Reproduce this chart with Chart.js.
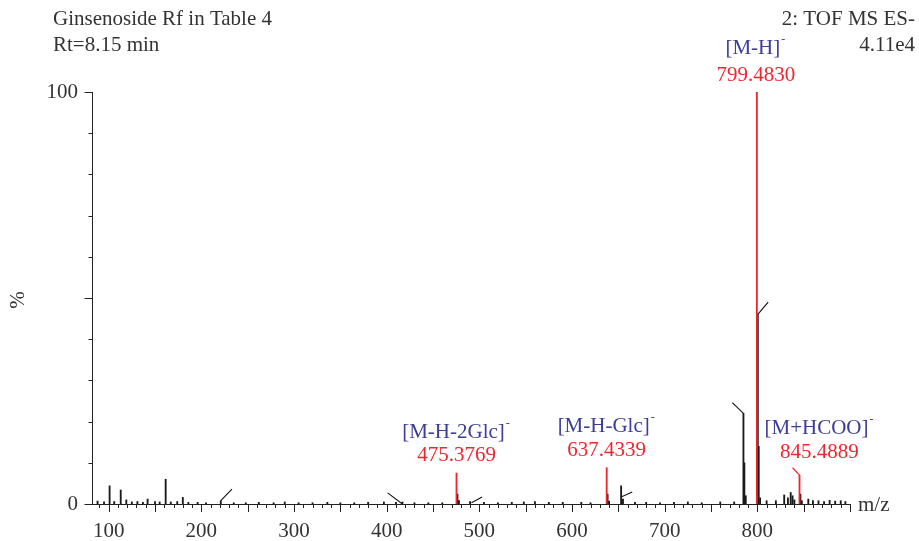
<!DOCTYPE html>
<html lang="en">
<head>
    <meta charset="UTF-8">
    <title>Ginsenoside Rf MS spectrum</title>
    <script src="https://cdn.jsdelivr.net/npm/chart.js@4.4.1/dist/chart.umd.min.js"></script>
    <style>
        body {
            margin: 0;
            background: #fff;
        }
        .chart-container {
            width: 919px;
            height: 541px;
            position: relative;
        }
    </style>
</head>
<body>
    <div class="chart-container">
        <canvas id="msChart"></canvas>
    </div>

    <script>
        // m/z and relative intensity (%) of the black sticks
        const peakMz = [88, 95, 101, 106, 113, 119, 125, 131, 137, 142, 150, 155, 161.5, 167, 174, 180, 186, 196, 205, 221,
            235, 248, 262, 278, 290, 305, 320, 336, 350, 365, 380, 397, 410, 417, 430, 445, 460, 476.4, 478, 490,
            505, 520, 535, 548, 560, 575, 590, 610, 620, 638.4, 640, 653, 655, 668, 680, 695, 710, 725, 740, 760,
            775, 785, 786, 787.5, 800.5, 801.5, 803, 810, 820, 829, 833, 836, 838, 840, 846.5, 848, 855, 860, 866,
            872, 878, 884, 890, 895];
        const peakInt = [0.7, 0.5, 4.4, 0.6, 3.4, 1.0, 0.5, 0.6, 0.4, 1.2, 0.6, 0.5, 6.0, 0.5, 0.6, 1.6, 0.4, 0.4, 0.3, 0.8,
            0.3, 0.3, 0.4, 0.3, 0.5, 0.3, 0.3, 0.4, 0.3, 0.3, 0.4, 0.5, 0.4, 0.5, 0.3, 0.3, 0.3, 2.4, 0.8, 0.6,
            0.4, 0.3, 0.4, 0.5, 0.6, 0.4, 0.4, 0.4, 0.3, 2.4, 0.7, 4.4, 1.2, 0.4, 0.4, 0.3, 0.4, 0.5, 0.3, 0.5,
            0.5, 22, 10, 2, 46, 14, 1.5, 0.8, 0.8, 2.2, 1.5, 2.8, 2.0, 1.0, 2.4, 0.8, 1.2, 0.8, 0.8,
            0.6, 0.9, 0.7, 0.8, 0.6];

        // annotated ions (red)
        const ionMz = [475.3769, 637.4339, 799.4830, 845.4889];
        const ionInt = [7.5, 8.8, 100, 7];
        const ionNames = ['[M-H-2Glc]', '[M-H-Glc]', '[M-H]', '[M+HCOO]'];

        // leftover leader lines of the original plot: [mzFrom, intFrom, mzTo, intTo]
        const leaderLines = [
            [221, 0.8, 233, 3.6],
            [417, 0, 401, 2.7],
            [491.5, 0.3, 503, 1.7],
            [653, 1.7, 665, 2.9],
            [785, 22, 773, 24.6],
            [800.5, 46, 811.7, 49]
        ];
        const redLeader = [845.4889, 7, 838, 8.8];

        const xTickLabels = [100, 200, 300, 400, 500, 600, 700, 800];
        const yTickLabels = [0, 100];

        const serif = '"Liberation Serif", "DejaVu Serif", serif';
        const textColor = '#333333';
        const blue = '#3b3d96';
        const red = '#ec2730';

        function toSegments(list) {
            const pts = [];
            list.forEach(l => {
                pts.push({ x: l[0], y: l[1] }, { x: l[2], y: l[3] }, { x: NaN, y: null });
            });
            return pts;
        }

        const axisPlugin = {
            id: 'msAxes',
            afterDraw(chart) {
                const ctx = chart.ctx;
                const xs = chart.scales.x;
                const ys = chart.scales.y;
                const x0 = xs.left, x1 = xs.right;
                const yBase = ys.getPixelForValue(0);
                const yTop = ys.getPixelForValue(100);
                ctx.save();
                ctx.strokeStyle = '#222';
                ctx.lineWidth = 1;
                ctx.beginPath();
                ctx.moveTo(x0 + 0.5, yTop);
                ctx.lineTo(x0 + 0.5, yBase);
                ctx.moveTo(x0, yBase + 0.5);
                ctx.lineTo(x1, yBase + 0.5);
                // y ticks
                for (let v = 0; v <= 100; v += 10) {
                    const py = Math.round(ys.getPixelForValue(v)) + 0.5;
                    const len = v % 50 === 0 ? 8 : 4;
                    ctx.moveTo(x0 + 0.5 - len, py);
                    ctx.lineTo(x0 + 0.5, py);
                }
                // x ticks
                for (let v = 90; v <= 900; v += 10) {
                    const px = Math.round(xs.getPixelForValue(v)) + 0.5;
                    const len = v % 50 === 0 ? 8 : 4;
                    ctx.moveTo(px, yBase);
                    ctx.lineTo(px, yBase + len);
                }
                ctx.stroke();

                const f = '21px ' + serif;
                ctx.fillStyle = textColor;
                ctx.font = f;
                ctx.textBaseline = 'middle';
                ctx.textAlign = 'center';
                xTickLabels.forEach(v => {
                    ctx.fillText(String(v), xs.getPixelForValue(v), yBase + 27);
                });
                ctx.textAlign = 'right';
                yTickLabels.forEach(v => {
                    ctx.fillText(String(v), x0 - 14, ys.getPixelForValue(v));
                });
                ctx.textAlign = 'left';
                ctx.fillText('m/z', x1 + 8, yBase + 1);

                ctx.save();
                ctx.translate(18, 300);
                ctx.rotate(-Math.PI / 2);
                ctx.textAlign = 'center';
                ctx.fillText('%', 0, 0);
                ctx.restore();

                // header
                ctx.textAlign = 'left';
                ctx.fillText('Ginsenoside Rf in Table 4', 53, 19);
                ctx.fillText('Rt=8.15 min', 53, 45);
                ctx.textAlign = 'right';
                ctx.fillText('2: TOF MS ES-', 915, 19);
                ctx.fillText('4.11e4', 915, 45);

                // ion labels
                const labelPos = [
                    { dx: 0, nameY: 432, valY: 455 },
                    { dx: 0, nameY: 426, valY: 450 },
                    { dx: -1, nameY: 48, valY: 75 },
                    { dx: 20, nameY: 428, valY: 452 }
                ];
                ionMz.forEach((mz, i) => {
                    const cx = xs.getPixelForValue(mz) + labelPos[i].dx;
                    ctx.font = f;
                    ctx.textAlign = 'center';
                    ctx.fillStyle = red;
                    ctx.fillText(mz.toFixed(4), cx, labelPos[i].valY);
                    ctx.fillStyle = blue;
                    const w = ctx.measureText(ionNames[i]).width;
                    ctx.fillText(ionNames[i], cx - 3, labelPos[i].nameY);
                    ctx.font = '12px ' + serif;
                    ctx.textAlign = 'left';
                    ctx.fillText('-', cx - 3 + w / 2 + 1, labelPos[i].nameY - 8);
                });
                ctx.restore();
            }
        };

        const ctx = document.getElementById('msChart').getContext('2d');
        new Chart(ctx, {
            type: 'bar',
            data: {
                datasets: [{
                    data: peakMz.map((mz, i) => ({ x: mz, y: peakInt[i] })),
                    backgroundColor: '#1a1a1a',
                    barThickness: 1.2,
                    grouped: false,
                    order: 2
                }, {
                    data: ionMz.map((mz, i) => ({ x: mz, y: ionInt[i] })),
                    backgroundColor: red,
                    barThickness: 1.2,
                    grouped: false,
                    order: 1
                }, {
                    type: 'line',
                    data: toSegments(leaderLines),
                    borderColor: '#1a1a1a',
                    borderWidth: 1.2,
                    pointRadius: 0,
                    spanGaps: false,
                    order: 0
                }, {
                    type: 'line',
                    data: toSegments([redLeader]),
                    borderColor: red,
                    borderWidth: 1.2,
                    pointRadius: 0,
                    spanGaps: false,
                    order: 0
                }]
            },
            options: {
                responsive: true,
                maintainAspectRatio: false,
                animation: false,
                layout: {
                    padding: { left: 92, right: 69, top: 92, bottom: 37 }
                },
                plugins: {
                    legend: { display: false },
                    tooltip: { enabled: false }
                },
                scales: {
                    x: {
                        type: 'linear',
                        min: 82,
                        max: 900,
                        offset: false,
                        display: false
                    },
                    y: {
                        min: 0,
                        max: 100,
                        display: false
                    }
                }
            },
            plugins: [axisPlugin]
        });
    </script>
</body>
</html>
